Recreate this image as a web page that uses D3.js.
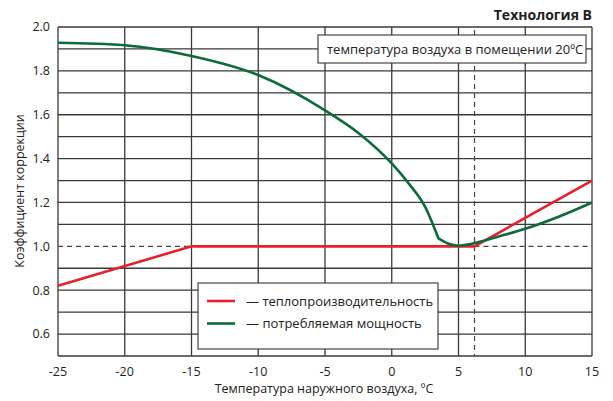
<!DOCTYPE html>
<html><head><meta charset="utf-8">
<script src="https://cdn.jsdelivr.net/npm/d3@7"></script>
<style>body{margin:0;background:#fff}svg{display:block;font-family:"Open Sans","Noto Sans",sans-serif}</style>
</head><body><svg id="c" width="613" height="401"></svg>
<script>
const title = "Технология B";
const xLabel = "Температура наружного воздуха, ºC";
const yLabel = "Коэффициент коррекции";
const noteText = "температура воздуха в помещении 20ºC";
const seriesNames = ["— теплопроизводительность", "— потребляемая мощность"];
const xTicks = [-25, -20, -15, -10, -5, 0, 5, 10, 15];
const yTicks = [0.6, 0.8, 1.0, 1.2, 1.4, 1.6, 1.8, 2.0];
const yGrid = [0.5, 0.6, 0.7, 0.8, 0.9, 1.1, 1.2, 1.3, 1.4, 1.5, 1.6, 1.7, 1.8, 1.9, 2.0];
const heatT = [-25, -15, 6.2, 15];
const heatV = [0.82, 1.0, 1.0, 1.3];
const powerT = [-25, -20, -15, -10, -5, -2.5, 0, 1.25, 2.5, 3.5, 4.2, 5, 6, 8, 10, 12.5, 15];
const powerV = [1.928, 1.917, 1.868, 1.781, 1.62, 1.517, 1.378, 1.288, 1.18, 1.036, 1.013, 1.003, 1.012, 1.045, 1.08, 1.135, 1.2];
const kinkT = 3.5;
const refT = 6.2;
const refV = 1.0;

const svg = d3.select("#c");
const m = {l: 58, r: 592, t: 27, b: 356};
const x = d3.scaleLinear().domain([-25, 15]).range([m.l, m.r]);
const y = d3.scaleLinear().domain([0.5, 2.0]).range([m.b, m.t]);
const gridC = "#3a3a3a";

// layers
const gGrid = svg.append("g").attr("class", "gridlayer");
const gDash = svg.append("g");
const gData = svg.append("g");
const gBoxes = svg.append("g");
const gText = svg.append("g");

// dashed reference lines
const dash = gDash.attr("stroke", "#444").attr("stroke-width", 1.2).attr("stroke-dasharray", "5,4");
dash.append("line").attr("x1", x(-25)).attr("x2", x(-15)).attr("y1", y(refV)).attr("y2", y(refV));
dash.append("line").attr("x1", x(refT)).attr("x2", x(15)).attr("y1", y(refV)).attr("y2", y(refV));
dash.append("line").attr("x1", x(refT)).attr("x2", x(refT)).attr("y1", m.t + 3).attr("y2", m.b);

// axes text
const tk = gText.attr("font-size", 12.5).attr("fill", "#222");
yTicks.forEach(v => {
  tk.append("text").attr("x", 50).attr("y", y(v)).attr("dy", "0.35em").attr("text-anchor", "end").text(v.toFixed(1));
});
xTicks.forEach(t => {
  tk.append("text").attr("x", x(t)).attr("y", 372).attr("dy", "0.35em").attr("text-anchor", "middle").text(t);
});
tk.append("text").attr("x", 324).attr("y", 389).attr("dy", "0.35em").attr("text-anchor", "middle").text(xLabel);
tk.append("text").attr("transform", "translate(20,191) rotate(-90)").attr("dy", "0.35em").attr("text-anchor", "middle").text(yLabel);
tk.append("text").attr("x", 592).attr("y", 20).attr("text-anchor", "end").attr("font-size", 14).attr("font-weight", "bold").text(title);

// data lines
const pts = powerT.map((t, i) => [t, powerV[i]]);
const line = d3.line().x(d => x(d[0])).y(d => y(d[1]));
gData.append("path").datum(heatT.map((t, i) => [t, heatV[i]])).attr("d", line)
  .attr("fill", "none").attr("stroke", "#e8202a").attr("stroke-width", 2.6);
const smooth = d3.line().x(d => x(d[0])).y(d => y(d[1])).curve(d3.curveMonotoneX);
const pathD = smooth(pts.filter(p => p[0] <= kinkT)) + smooth(pts.filter(p => p[0] >= kinkT)).replace(/^M/, "L");
gData.append("path").attr("d", pathD)
  .attr("fill", "none").attr("stroke", "#0b6b3a").attr("stroke-width", 2.6).attr("stroke-linejoin", "round");

// note box
gBoxes.append("rect").attr("x", 318).attr("y", 35).attr("width", 268).attr("height", 28)
  .attr("fill", "#fff").attr("stroke", "#333").attr("stroke-width", 1.1);
gBoxes.append("text").attr("x", 327).attr("y", 49).attr("dy", "0.35em").attr("font-size", 13).attr("fill", "#222").text(noteText);

// legend
gBoxes.append("rect").attr("x", 198).attr("y", 283).attr("width", 240).attr("height", 66)
  .attr("fill", "#fff").attr("stroke", "#333").attr("stroke-width", 1.1);
const lc = ["#e8202a", "#0b6b3a"];
seriesNames.forEach((n, i) => {
  const yy = 301 + i * 22.5;
  gBoxes.append("line").attr("x1", 207).attr("x2", 235).attr("y1", yy).attr("y2", yy).attr("stroke", lc[i]).attr("stroke-width", 2.6);
  gBoxes.append("text").attr("x", 246).attr("y", yy).attr("dy", "0.35em").attr("font-size", 13).attr("fill", "#222").text(n);
});

// grid: one path built from the scales
let gd = "";
yGrid.forEach(v => { gd += `M${m.l},${y(v)}H${m.r}`; });
gd += `M${x(-15)},${y(refV)}H${x(refT)}`;
xTicks.forEach(t => { gd += `M${x(t)},${m.t}V${m.b}`; });
gGrid.append("path").attr("d", gd).attr("fill", "none").attr("stroke", gridC).attr("stroke-width", 1.3);
</script></body></html>
